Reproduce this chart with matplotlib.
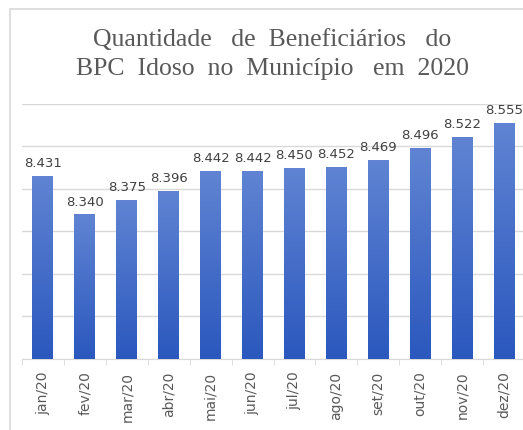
import numpy as np
import matplotlib.pyplot as plt
from matplotlib.colors import LinearSegmentedColormap
from matplotlib.patches import Rectangle

meses = ['jan/20', 'fev/20', 'mar/20', 'abr/20', 'mai/20', 'jun/20',
         'jul/20', 'ago/20', 'set/20', 'out/20', 'nov/20', 'dez/20']
beneficiarios = [8431, 8340, 8375, 8396, 8442, 8442,
                 8450, 8452, 8469, 8496, 8522, 8555]
rotulos = ['8.431', '8.340', '8.375', '8.396', '8.442', '8.442',
           '8.450', '8.452', '8.469', '8.496', '8.522', '8.555']

fig = plt.figure(figsize=(5.23, 4.30), dpi=100)
fig.patch.set_facecolor('white')

# moldura cinza do grafico
fig.patches.append(Rectangle((10/523, -0.05), 1.2, (430-9)/430 + 0.05,
                             transform=fig.transFigure, fill=False,
                             edgecolor='#d9d9d9', lw=1.2))

ax = fig.add_axes([22/523, (430-359)/430, 503/523, (359-104)/430])
x = np.arange(len(meses))
bars = ax.bar(x, beneficiarios, width=0.5, bottom=0, color='none', zorder=3)

cmap = LinearSegmentedColormap.from_list('azul', ['#2b58be', '#6084d3'])
grad = np.linspace(0, 1, 256).reshape(-1, 1)
for b in bars:
    x0 = b.get_x()
    x1 = x0 + b.get_width()
    h = b.get_height()
    im = ax.imshow(grad, cmap=cmap, origin='lower', aspect='auto',
                   extent=[x0, x1, 8000, h], zorder=3)
    im.set_clip_path(b)

for xi, v, r in zip(x, beneficiarios, rotulos):
    ax.text(xi, v + 14, r, ha='center', va='bottom', fontsize=9.5,
            color='#404040')

ax.set_xlim(-0.5, 11.5)
ax.set_ylim(8000, 8600)
ax.set_yticks(np.arange(8000, 8601, 100))
ax.yaxis.grid(True, color='#d9d9d9', lw=1)
ax.set_axisbelow(True)
ax.tick_params(axis='y', left=False, labelleft=False)

ax.set_xticks(x)
ax.set_xticklabels(meses, rotation=90, fontsize=10, color='#595959')
ax.set_xticks(np.arange(-0.5, 12, 1), minor=True)
ax.tick_params(axis='x', which='major', length=0, pad=9)
ax.tick_params(axis='x', which='minor', length=4, color='#d9d9d9')

for s in ['top', 'right', 'left']:
    ax.spines[s].set_visible(False)
ax.spines['bottom'].set_color('#d9d9d9')

fig.text(272/523, 1 - 40/430, 'Quantidade   de  Beneficiários   do',
         ha='center', va='center', fontsize=18.5, family='Liberation Serif',
         color='#595959')
fig.text(272/523, 1 - 69/430, 'BPC  Idoso  no  Município   em  2020',
         ha='center', va='center', fontsize=18.5, family='Liberation Serif',
         color='#595959')

fig.savefig('out.png', dpi=100)
